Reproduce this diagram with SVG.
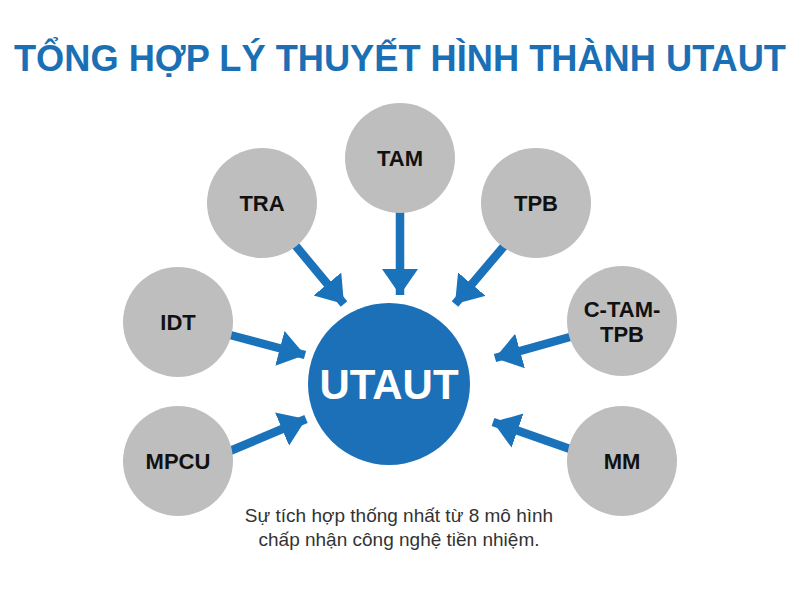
<svg xmlns="http://www.w3.org/2000/svg" width="800" height="600" viewBox="0 0 800 600">
<defs>
<marker id="ah" markerUnits="userSpaceOnUse" markerWidth="28" markerHeight="38" refX="26" refY="18" orient="auto">
<path d="M0,0 L26,18 L0,36 Z" fill="#1a73ba"/>
</marker>
<style>
.sat{fill:#bebebe}
.lbl{font-family:"Liberation Sans",Arial,sans-serif;font-weight:bold;font-size:22px;fill:#111;text-anchor:middle}
.conn line{stroke:#1a73ba;stroke-width:8.5;marker-end:url(#ah)}
</style>
</defs>
<rect width="800" height="600" fill="#ffffff"/>
<text x="400" y="71" text-anchor="middle" font-family="Liberation Sans, Arial, sans-serif" font-weight="bold" font-size="36" fill="#1b6fb5" textLength="772" lengthAdjust="spacingAndGlyphs">TỔNG HỢP LÝ THUYẾT HÌNH THÀNH UTAUT</text>
<g class="conn" id="connectors">
<line x1="295" y1="245" x2="344" y2="304"/>
<line x1="400" y1="212" x2="400" y2="295"/>
<line x1="505" y1="245" x2="455" y2="304"/>
<line x1="230" y1="335" x2="305" y2="355"/>
<line x1="230" y1="451" x2="306" y2="419"/>
<line x1="570" y1="337" x2="495" y2="358"/>
<line x1="570" y1="449" x2="493" y2="422"/>
</g>
<g id="utaut"><circle cx="389" cy="384" r="81" fill="#1c70b8"/><text x="389" y="399" text-anchor="middle" font-family="Liberation Sans, Arial, sans-serif" font-weight="bold" font-size="42" fill="#ffffff">UTAUT</text></g>
<g id="tra"><circle class="sat" cx="262" cy="203" r="55"/><text class="lbl" x="262" y="211">TRA</text></g>
<g id="tam"><circle class="sat" cx="400" cy="158" r="55"/><text class="lbl" x="400" y="166">TAM</text></g>
<g id="tpb"><circle class="sat" cx="536" cy="203" r="55"/><text class="lbl" x="536" y="211">TPB</text></g>
<g id="idt"><circle class="sat" cx="178" cy="322" r="55"/><text class="lbl" x="178" y="330">IDT</text></g>
<g id="ctamtpb"><circle class="sat" cx="622" cy="321" r="55"/><text class="lbl" x="622" y="317">C-TAM-</text><text class="lbl" x="622" y="342">TPB</text></g>
<g id="mpcu"><circle class="sat" cx="178" cy="461" r="55"/><text class="lbl" x="178" y="469">MPCU</text></g>
<g id="mm"><circle class="sat" cx="622" cy="461" r="55"/><text class="lbl" x="622" y="469">MM</text></g>
<g id="caption" font-family="Liberation Sans, Arial, sans-serif" font-size="19" fill="#333333" text-anchor="middle">
<text x="399" y="522">Sự tích hợp thống nhất từ 8 mô hình</text>
<text x="399" y="546">chấp nhận công nghệ tiền nhiệm.</text>
</g>
</svg>
